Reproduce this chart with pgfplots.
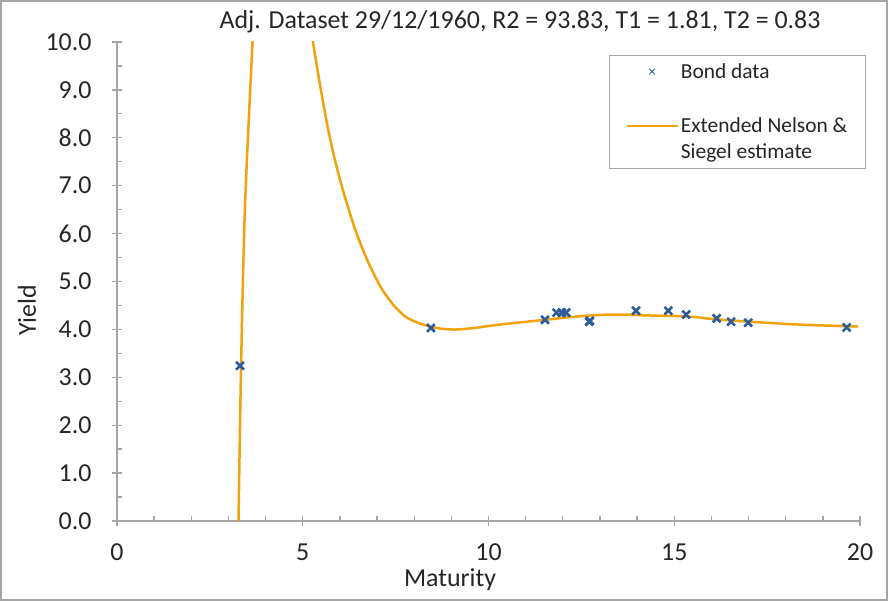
\documentclass[border=0pt]{standalone}
\usepackage{pgfplots}
\pgfplotsset{compat=1.18}
\usepackage{fontspec}
\setmainfont{Carlito}
\definecolor{curve}{HTML}{F2A20C}
\definecolor{pts}{HTML}{2E5C98}
\definecolor{axgray}{HTML}{A6A6A6}
\definecolor{txt}{HTML}{262626}
\begin{document}
\begin{tikzpicture}[x=1bp,y=1bp]
\useasboundingbox (-117,-80) rectangle (771,521);
\draw[axgray, line width=2bp] (-116,-79) rectangle (770,520);
\begin{axis}[
  at={(0,0)}, anchor=south west,
  scale only axis, width=743bp, height=479bp,
  xmin=0, xmax=20, ymin=0, ymax=10,
  axis lines*=left,
  axis line style={axgray, line width=1.3bp, -},
  xtick={0,5,10,15,20}, minor x tick num=4,
  ytick={0,1,2,3,4,5,6,7,8,9,10}, minor y tick num=1,
  tick align=inside, major tick length=10bp, minor tick length=5bp,
  tick style={axgray, line width=1.3bp},
  major x tick style={yshift=-5bp},
  major y tick style={xshift=-5bp},
  /pgf/number format/assume math mode=true,
  ticklabel style={font=\fontsize{26}{30}\selectfont, text=txt},
  xticklabel style={yshift=-19bp},
  yticklabel style={xshift=-22bp, /pgf/number format/.cd, fixed, fixed zerofill, precision=1},
  legend cell align=left,
  legend style={at={(rel axis cs:0.662,0.973)}, anchor=north west,
    draw=axgray, line width=1bp, fill=white, text=txt,
    font=\fontsize{21.5}{26}\selectfont, row sep=34bp,
    inner xsep=16bp, inner ysep=6bp,
    cells={align=left}},
]
\addplot[only marks, mark=x, mark size=5.5bp, pts, line width=2.6bp,
  legend image code/.code={\draw[pts, line width=0.8bp, mark=x, mark size=4bp, mark options={line width=0.8bp}] plot coordinates {(25.5bp,0bp)};}]
coordinates {
(3.31,3.24) (8.45,4.03) (11.52,4.20) (11.83,4.35) (11.97,4.35) (12.09,4.35)
(12.71,4.16) (12.73,4.18) (13.97,4.39) (14.84,4.39) (15.32,4.31) (16.14,4.23)
(16.53,4.16) (16.99,4.14) (19.64,4.04)
};
\addlegendentry{Bond data}
\addplot[curve, line width=2.5bp, smooth, tension=0.5,
  legend image code/.code={\draw[curve, line width=2.5bp] (0bp,13bp) -- (51bp,13bp);}]
coordinates {
(3.25,-0.4) (3.27,0) (3.34,3.24) (3.445,6.56) (3.65,10.04) (3.72,11.2)
};
\addlegendentry{Extended Nelson \&\\Siegel estimate}
\addplot[curve, line width=2.5bp, smooth, tension=0.7, forget plot]
coordinates {
(5.1,10.85) (5.27,10.02) (5.55,8.73) (5.82,7.69) (6.18,6.65) (6.58,5.74) (7.03,4.98)
(7.35,4.60) (7.6,4.38) (7.89,4.21) (8.43,4.06) (8.96,4.00) (9.5,4.02) (10.31,4.10) (11.52,4.20)
(12.55,4.28) (13.45,4.31) (14.35,4.29) (15.33,4.27) (16.14,4.21) (17.04,4.16)
(18.38,4.10) (19.95,4.06)
};
\end{axis}
\node[text=txt, font=\fontsize{26}{30}\selectfont] at (403,499) {Adj. Dataset 29/12/1960, R2 = 93.83, T1 = 1.81, T2 = 0.83};
\node[text=txt, font=\fontsize{26}{30}\selectfont] at (333,-59) {Maturity};
\node[text=txt, font=\fontsize{26}{30}\selectfont, rotate=90] at (-90,211) {Yield};
\end{tikzpicture}
\end{document}
